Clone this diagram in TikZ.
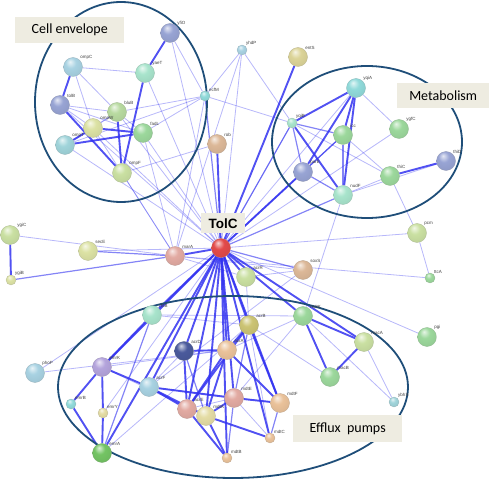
\documentclass[tikz,border=0pt]{standalone}
\usepackage{fontspec}
\newfontfamily\calibrifont{Carlito}
\newfontfamily\arialfont{Liberation Sans}
\usetikzlibrary{backgrounds}
\definecolor{Edge}{HTML}{3232F0}
\definecolor{Ring}{HTML}{1F4E79}
\definecolor{Tag}{HTML}{EEECE1}
\definecolor{Slate}{HTML}{98A4D4}
\definecolor{Sky}{HTML}{A8D2E2}
\definecolor{Mint}{HTML}{A8E4CC}
\definecolor{Leaf}{HTML}{B8DAA0}
\definecolor{Lime}{HTML}{DCE2A4}
\definecolor{Fern}{HTML}{9CD89C}
\definecolor{Aqua}{HTML}{A0D4DA}
\definecolor{Olive}{HTML}{CAE0A2}
\definecolor{Tan}{HTML}{DCB898}
\definecolor{Khaki}{HTML}{DCD498}
\definecolor{Teal}{HTML}{90DADA}
\definecolor{DeepBlue}{HTML}{4A5A9C}
\definecolor{Rose}{HTML}{E2AAA2}
\definecolor{Cream}{HTML}{E4DCA4}
\definecolor{Peach}{HTML}{EAC29A}
\definecolor{Brick}{HTML}{E24A4A}
\definecolor{Violet}{HTML}{B4A4DC}
\definecolor{Jade}{HTML}{74C464}
\definecolor{Mustard}{HTML}{CCC474}
\colorlet{Ball}{white}
\pgfdeclareradialshading[Ball]{glass}{\pgfpoint{-8bp}{14bp}}{color(0bp)=(Ball!25!white); color(14bp)=(Ball); color(38bp)=(Ball!92!black); color(47bp)=(Ball!78!black); color(60bp)=(Ball!78!black)}

\begin{document}
\begin{tikzpicture}[x=1pt,y=-1pt,
  gene/.style={circle,inner sep=0pt,minimum size=19pt,draw=#1!60!gray,line width=0.3pt,/utils/exec={\colorlet{Ball}{#1}},shading=glass},
  dot/.style={gene=#1,minimum size=10pt},
  lbl/.style={font=\arialfont\fontsize{4.5}{5}\selectfont,text=black!75,inner sep=0.4pt},
  weak/.style={draw=Edge,opacity=0.35,line width=0.8pt},
  mid/.style={draw=Edge,opacity=0.6,line width=1.2pt},
  strong/.style={draw=Edge,opacity=0.85,line width=1.9pt},
  group/.style={draw=Ring,line width=1.8pt},
  tag/.style={fill=Tag,anchor=north west,font=\calibrifont\fontsize{14}{16}\selectfont,inner sep=0pt}
]
\useasboundingbox (0,0) rectangle (490,481);

% cell envelope
\node[gene=Slate,label={[lbl]45:yfiO}] (yfiO) at (170,33) {};
\node[gene=Mint,label={[lbl]45:yaeT}] (yaeT) at (145,73) {};
\node[gene=Sky,label={[lbl]45:ompC}] (ompC) at (73,67) {};
\node[gene=Slate,label={[lbl]45:tolB}] (tolB) at (60,105) {};
\node[gene=Leaf,label={[lbl]45:bluB}] (bluB) at (117,112) {};
\node[gene=Lime,label={[lbl]45:ompW}] (ompW) at (93,128) {};
\node[gene=Fern,label={[lbl]45:fadL}] (fadL) at (143,133) {};
\node[gene=Aqua,label={[lbl]45:ompT}] (ompT) at (65,145) {};
\node[gene=Olive,label={[lbl]45:ompF}] (ompF) at (122,173) {};
\node[dot=Teal,label={[lbl]45:ecfM}] (ecfM) at (205,96) {};
\node[gene=Tan,label={[lbl]45:rob}] (rob) at (217,144) {};
\node[dot=Sky,label={[lbl]45:yhdP}] (yhdP) at (242,50) {};
\node[gene=Khaki,label={[lbl]45:entS}] (entS) at (298,57) {};

% metabolism
\node[gene=Teal,label={[lbl]45:yqiA}] (yqiA) at (356,88) {};
\node[dot=Mint,label={[lbl]45:yqiB}] (yqiB) at (292,123) {};
\node[gene=Fern,label={[lbl]45:icc}] (icc) at (343,135) {};
\node[gene=Fern,label={[lbl]45:ygfC}] (ygfC) at (399,129) {};
\node[gene=Slate,label={[lbl]45:parE}] (parE) at (303,172) {};
\node[gene=Fern,label={[lbl]45:thiC}] (thiC) at (390,176) {};
\node[gene=Slate,label={[lbl]45:thiD}] (thiD) at (446,161) {};
\node[gene=Mint,label={[lbl]45:nudF}] (nudF) at (343,195) {};
\node[gene=Olive,label={[lbl]45:pcm}] (pcm) at (417,233) {};
\node[dot=Fern,label={[lbl]45:ttcA}] (ttcA) at (430,278) {};

% centre and left
\node[gene=Brick] (tolC) at (221,248) {};
\node[gene=Rose,label={[lbl]45:marA}] (marA) at (175,256) {};
\node[gene=Lime,label={[lbl]45:secE}] (secE) at (88,251) {};
\node[gene=Olive,label={[lbl]45:ygiC}] (ygiC) at (10,235) {};
\node[dot=Lime,label={[lbl]45:ygiB}] (ygiB) at (11,280) {};
\node[gene=Tan,label={[lbl]45:soxS}] (soxS) at (303,270) {};
\node[gene=Olive,label={[lbl]45:acrR}] (acrR) at (246,277) {};

% efflux pumps
\node[gene=Fern,label={[lbl]45:mdtK}] (mdtK) at (303,316) {};
\node[gene=Mustard,label={[lbl]45:acrB}] (acrB) at (249,325) {};
\node[gene=Peach,label={[lbl]45:acrA}] (acrA) at (227,350) {};
\node[gene=DeepBlue,label={[lbl]45:acrD}] (acrD) at (184,351) {};
\node[gene=Sky,label={[lbl]45:acrF}] (acrF) at (149,387) {};
\node[gene=Rose,label={[lbl]45:acrE}] (acrE) at (187,409) {};
\node[gene=Cream,label={[lbl]45:mdtA}] (mdtA) at (206,416) {};
\node[gene=Rose,label={[lbl]45:mdtE}] (mdtE) at (234,398) {};
\node[gene=Peach,label={[lbl]45:mdtF}] (mdtF) at (280,403) {};
\node[dot=Peach,label={[lbl]45:mdtC}] (mdtC) at (270,438) {};
\node[dot=Peach,label={[lbl]45:mdtB}] (mdtB) at (227,458) {};
\node[gene=Mint,label={[lbl]45:rhtB}] (rhtB) at (152,315) {};
\node[gene=Violet,label={[lbl]45:emrK}] (emrK) at (102,367) {};
\node[dot=Teal,label={[lbl]45:emrB}] (emrB) at (71,404) {};
\node[dot=Cream,label={[lbl]45:emrY}] (emrY) at (103,413) {};
\node[gene=Jade,label={[lbl]45:emrA}] (emrA) at (102,453) {};
\node[gene=Sky,label={[lbl]45:phoP}] (phoP) at (35,373) {};
\node[gene=Olive,label={[lbl]45:macA}] (macA) at (364,342) {};
\node[gene=Fern,label={[lbl]45:macB}] (macB) at (330,377) {};
\node[gene=Fern,label={[lbl]45:pgi}] (pgi) at (427,337) {};
\node[dot=Aqua,label={[lbl]45:ybhS}] (ybhS) at (394,402) {};

\begin{scope}[on background layer]
\foreach \a/\b in {ompC/yaeT,ompC/ompW,ompC/bluB,tolB/bluB,tolB/ompW,tolB/fadL,bluB/ompW,bluB/fadL,
  ompT/bluB,bluB/ecfM,ompT/ecfM,fadL/ecfM,yfiO/ecfM,yfiO/tolC,yaeT/tolC,bluB/tolC,fadL/tolC,
  ompW/tolC,ompT/tolC,tolB/tolC,ompF/rob,ompF/marA,fadL/marA,ompW/marA,yhdP/ecfM,yhdP/tolC,
  yhdP/yqiB,yhdP/marA,ecfM/yqiB,ecfM/marA,yqiA/ygfC,yqiA/tolC,yqiB/tolC,yqiB/thiC,icc/thiC,
  nudF/thiC,nudF/thiD,ygfC/tolC,thiC/pcm,pcm/ttcA,pcm/tolC,ttcA/marA,nudF/mdtK,ygiC/marA,
  secE/tolC,soxS/acrR,soxS/acrF,soxS/marA,acrR/acrB,acrR/marA,phoP/tolC,phoP/acrA,rhtB/mdtK,
  rhtB/acrB,emrK/acrA,emrK/mdtA,emrA/acrB,emrY/tolC,mdtK/ybhS,macA/ybhS,macB/acrB,pgi/tolC,
  mdtE/mdtC,acrE/mdtE,acrF/acrD,acrB/mdtC,acrF/mdtF,mdtK/acrA,mdtK/mdtE}
  \draw[weak] (\a) -- (\b);
\foreach \a/\b in {ecfM/tolC,yqiB/icc,yqiB/parE,icc/parE,icc/nudF,parE/nudF,ygiB/marA,secE/marA,
  tolC/soxS,tolC/nudF,tolC/icc,emrA/rhtB,acrB/mdtE,mdtE/mdtB,mdtF/mdtC,acrD/mdtA,tolC/yqiB}
  \draw[mid] (\a) -- (\b);
\foreach \a/\b in {yfiO/yaeT,ompC/tolB,tolB/ompF,ompW/ompT,ompT/fadL,ompW/fadL,yaeT/ompF,bluB/ompF,
  tolC/rob,tolC/entS,tolC/marA,tolC/acrA,tolC/acrB,tolC/acrD,tolC/acrE,tolC/acrF,tolC/mdtA,
  tolC/mdtE,tolC/mdtF,tolC/mdtB,tolC/mdtC,tolC/emrA,tolC/emrK,tolC/rhtB,tolC/macA,tolC/mdtK,
  tolC/acrR,tolC/parE,ygiC/ygiB,yqiA/yqiB,yqiA/icc,yqiA/nudF,yqiA/parE,yqiB/nudF,thiC/thiD,
  emrK/emrY,emrK/emrB,emrB/emrA,emrY/emrA,emrK/rhtB,emrK/acrF,acrD/acrA,acrA/acrB,acrF/acrE,
  acrF/mdtA,acrF/mdtE,acrA/acrE,acrA/mdtA,acrB/mdtF,acrB/acrE,mdtA/mdtE,mdtA/mdtC,mdtE/mdtF,
  acrE/mdtB,mdtA/mdtB,mdtK/macA,mdtK/macB,macA/macB,acrD/acrE,acrA/mdtF}
  \draw[strong] (\a) -- (\b);
% groups
\draw[group] (121,102) ellipse [x radius=86,y radius=100];
\draw[group] (367,142) ellipse [x radius=95,y radius=76];
\draw[group] (233,387) ellipse [x radius=175,y radius=91];
\end{scope}

\node[tag,minimum width=109pt,minimum height=26pt] (cellTag) at (15,17) {Cell envelope};
\node[tag,minimum width=92pt,minimum height=25pt] (metaTag) at (397,83) {Metabolism};
\node[tag,minimum width=109pt,minimum height=27pt] (effluxTag) at (293,415) {Efflux~ pumps};
\node[tag,minimum width=44pt,minimum height=20pt,font=\arialfont\bfseries\fontsize{13.5}{15}\selectfont] (tolTag) at (201,213) {TolC};
\end{tikzpicture}
\end{document}
